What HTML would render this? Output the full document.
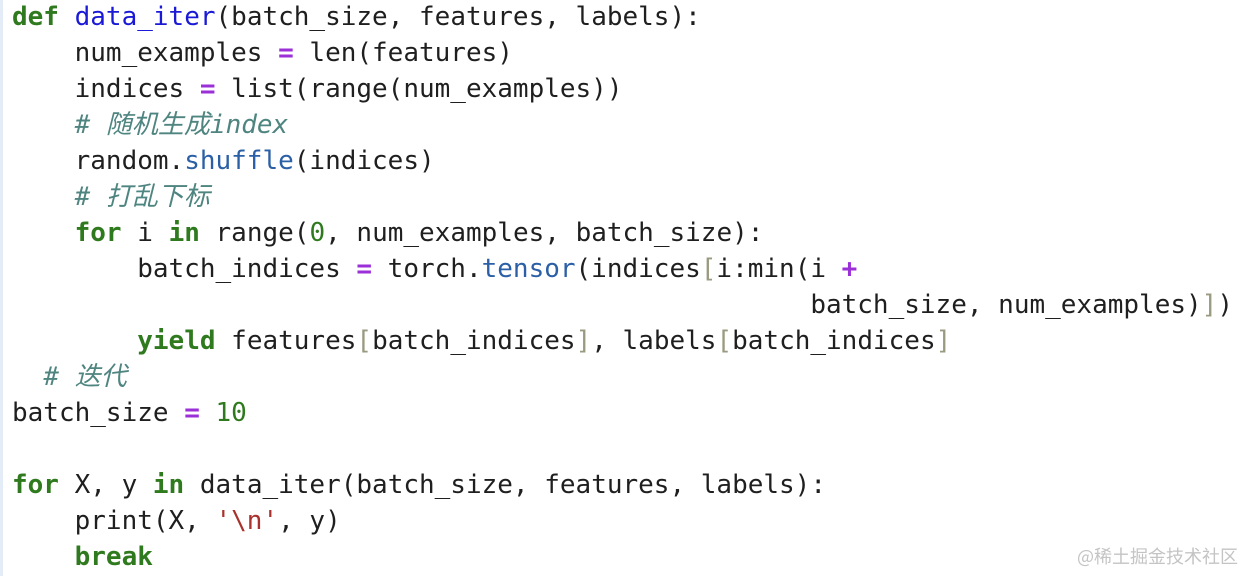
<!DOCTYPE html>
<html><head><meta charset="utf-8"><style>
html,body{margin:0;padding:0;background:#fff;width:1244px;height:576px;overflow:hidden;}
.bar{position:absolute;left:0;top:0;width:3px;height:576px;background:#e3ecf7;}
pre{position:absolute;left:12px;top:-1px;margin:0;font-family:"DejaVu Sans Mono","Liberation Mono","Noto Sans CJK SC",monospace;font-size:26px;line-height:36px;color:#1f1f1f;}
.k{color:#2f7a1e;font-weight:bold}
.f{color:#1a1ad6}
.o{color:#9b2fd8;font-weight:bold}
.m{color:#2b5fa6}
.c{color:#4f8580;font-style:italic;font-family:"DejaVu Sans Mono","Noto Sans CJK SC",monospace}
.n{color:#2f7a1e}
.s{color:#a8322d}
.b{color:#9a9a80}
.wm{position:absolute;left:1077px;top:543px;font-family:"Noto Sans CJK SC",sans-serif;font-size:18px;color:#c4c4c4;}
</style></head><body>
<div class="bar"></div>
<pre><span class="k">def</span> <span class="f">data_iter</span>(batch_size, features, labels):
    num_examples <span class="o">=</span> len(features)
    indices <span class="o">=</span> list(range(num_examples))
    <span class="c"># 随机生成index</span>
    random.<span class="m">shuffle</span>(indices)
    <span class="c"># 打乱下标</span>
    <span class="k">for</span> i <span class="k">in</span> range(<span class="n">0</span>, num_examples, batch_size):
        batch_indices <span class="o">=</span> torch.<span class="m">tensor</span>(indices<span class="b">[</span>i:min(i <span class="o">+</span>
                                                   batch_size, num_examples)<span class="b">]</span>)
        <span class="k">yield</span> features<span class="b">[</span>batch_indices<span class="b">]</span>, labels<span class="b">[</span>batch_indices<span class="b">]</span>
  <span class="c"># 迭代</span>
batch_size <span class="o">=</span> <span class="n">10</span>

<span class="k">for</span> X, y <span class="k">in</span> data_iter(batch_size, features, labels):
    print(X, <span class="s">'\n'</span>, y)
    <span class="k">break</span></pre>
<div class="wm">@稀土掘金技术社区</div>
</body></html>
